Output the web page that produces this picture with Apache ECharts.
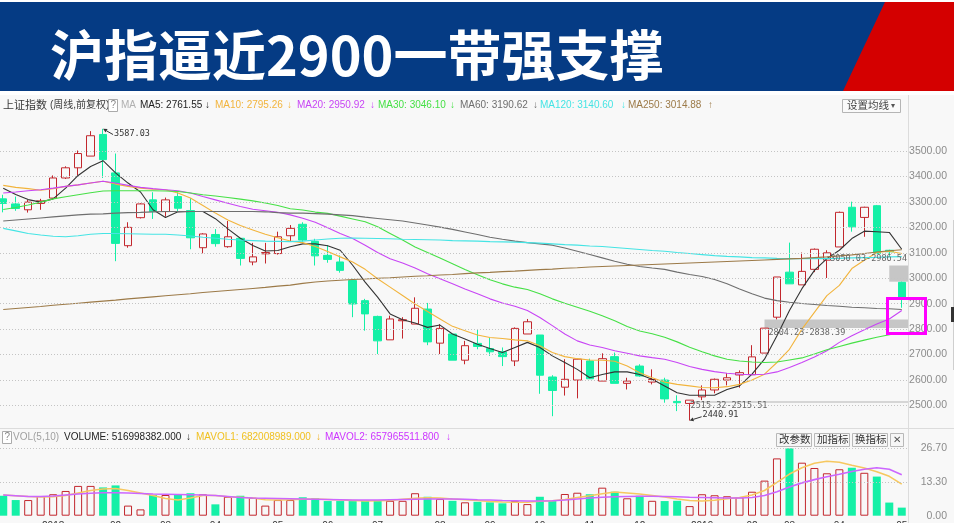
<!DOCTYPE html>
<html><head><meta charset="utf-8">
<script src="https://cdn.jsdelivr.net/npm/echarts@6/dist/echarts.min.js"></script>
<style>html,body{margin:0;padding:0;background:#f8f8f8;}#c{width:954px;height:523px;}</style>
</head><body><div id="c"></div>
<script>
const titleText = '沪指逼近2900一带强支撑';
const categories = ['2017-12-04','2017-12-11','2017-12-18','2017-12-25','2018-01-01','2018-01-08','2018-01-15','2018-01-22','2018-01-29','2018-02-05',
'2018-02-12','2018-02-19','2018-02-26','2018-03-05','2018-03-12','2018-03-19','2018-03-26','2018-04-02','2018-04-09','2018-04-16',
'2018-04-23','2018-04-30','2018-05-07','2018-05-14','2018-05-21','2018-05-28','2018-06-04','2018-06-11','2018-06-18','2018-06-25',
'2018-07-02','2018-07-09','2018-07-16','2018-07-23','2018-07-30','2018-08-06','2018-08-13','2018-08-20','2018-08-27','2018-09-03',
'2018-09-10','2018-09-17','2018-09-24','2018-10-08','2018-10-15','2018-10-22','2018-10-29','2018-11-05','2018-11-12','2018-11-19',
'2018-11-26','2018-12-03','2018-12-10','2018-12-17','2018-12-24','2018-12-31','2019-01-07','2019-01-14','2019-01-21','2019-01-28',
'2019-02-11','2019-02-18','2019-02-25','2019-03-04','2019-03-11','2019-03-18','2019-03-25','2019-04-01','2019-04-08','2019-04-15',
'2019-04-22','2019-04-29','2019-05-06'];
const opens = [3312,3292,3269,3294,3315,3394,3434,3480,3565,3414,
3128,3238,3308,3262,3321,3266,3120,3172,3124,3157,
3064,3096,3097,3167,3212,3145,3090,3064,2991,2912,
2850,2758,2833,2820,2879,2745,2781,2678,2744,2724,
2711,2675,2781,2777,2612,2572,2600,2675,2596,2692,
2587,2655,2592,2600,2516,2508,2534,2561,2600,2620,
2621,2706,2847,3024,2974,3035,3071,3123,3279,3239,
3285,3110,2984];
const closes = [3294,3274,3299,3304,3394,3434,3490,3560,3466,3137,
3200,3292,3262,3308,3275,3159,3174,3136,3163,3078,
3084,3101,3163,3196,3150,3088,3074,3031,2899,2860,
2754,2840,2837,2882,2750,2803,2678,2735,2732,2711,
2692,2803,2829,2619,2559,2603,2682,2605,2684,2587,
2596,2616,2602,2526,2511,2521,2561,2603,2609,2629,
2691,2804,3005,2978,3027,3114,3100,3259,3202,3279,
3097,3104,2917];
const lows = [3259,3265,3258,3269,3312,3390,3404,3480,3394,3067,
3120,3235,3233,3242,3262,3114,3098,3124,3120,3050,
3051,3058,3093,3146,3143,3050,3061,3022,2847,2794,
2702,2758,2763,2820,2737,2702,2678,2662,2721,2695,
2655,2655,2781,2546,2458,2539,2528,2605,2596,2587,
2563,2613,2583,2511,2478,2440.91,2521,2548,2579,2570,
2621,2706,2838.39,2978,2974,3024,3001,3123,3183,3163,
3097,3088,2884];
const highs = [3328,3321,3308,3312,3404,3440,3502,3578,3587.03,3490,
3220,3295,3338,3317,3338,3315,3177,3193,3225,3157,
3139,3139,3183,3209,3220,3155,3130,3090,2998,2919,
2853,2853,2847,2925,2903,2820,2781,2754,2800,2767,
2728,2807,2840,2777,2619,2682,2684,2684,2705,2708,
2609,2662,2642,2609,2540,2521,2579,2606,2627,2638,
2737,2804.23,3005,3140,3101,3117,3110,3262,3301,3281,
3288,3112,2986.54];
const volumes = [7.9,6.2,6.2,7.8,8.5,9.8,11.8,11.8,11.2,12.0,
4.0,2.5,8.2,8.2,8.2,8.9,8.5,4.5,7.5,7.9,
7.1,4.0,6.2,6.2,7.3,6.9,5.8,5.8,5.8,5.9,
6.2,5.9,5.9,8.9,7.5,6.6,5.9,5.3,5.5,5.3,
4.9,5.8,4.6,7.5,5.8,8.6,9.1,8.5,11.1,9.5,
6.9,7.9,5.9,5.8,5.9,3.8,8.5,8.1,7.7,7.3,
9.5,13.9,22.7,26.7,21.0,18.9,16.8,18.4,19.0,17.0,
15.5,5.2,3.2];
const ma5 = [3354,3329,3309,3299,3312,3354,3404,3439,3462,3414,
3374,3339,3269,3239,3261,3262,3262,3234,3194,3157,
3129,3107,3109,3124,3135,3135,3128,3110,3051,2985,
2926,2860,2837,2824,2807,2816,2781,2761,2741,2724,
2708,2728,2748,2728,2695,2669,2642,2609,2622,2632,
2632,2622,2603,2577,2550,2540,2540,2540,2563,2577,
2623,2682,2774,2873,2959,3031,3077,3110,3156,3185,
3183,3180,3114];
const ma10 = [3365,3357,3352,3346,3352,3361,3367,3374,3381,3370,
3361,3354,3350,3348,3335,3315,3286,3256,3229,3207,
3190,3173,3159,3146,3140,3125,3105,3084,3064,3035,
2998,2965,2932,2899,2869,2840,2811,2794,2777,2767,
2763,2758,2754,2735,2708,2692,2684,2679,2678,2674,
2655,2629,2609,2592,2583,2577,2571,2570,2574,2583,
2600,2623,2669,2721,2800,2866,2932,2972,3038,3071,
3101,3106,3097];
const ma20 = [3335,3339,3344,3348,3354,3361,3367,3374,3381,3374,
3365,3357,3352,3348,3344,3335,3321,3308,3295,3282,
3271,3265,3259,3249,3236,3220,3198,3176,3156,3130,
3101,3077,3060,3040,3018,2998,2978,2958,2939,2919,
2903,2890,2873,2846,2814,2781,2754,2738,2728,2715,
2705,2695,2688,2682,2669,2653,2642,2633,2627,2623,
2621,2623,2632,2649,2669,2691,2715,2748,2774,2798,
2820,2840,2873];
const ma30 = [3270,3278,3288,3299,3312,3320,3328,3336,3343,3344,
3344,3344,3344,3343,3341,3335,3328,3323,3317,3311,
3304,3296,3286,3273,3268,3260,3255,3244,3233,3222,
3202,3176,3150,3123,3101,3080,3057,3034,3014,2994,
2978,2965,2956,2939,2919,2902,2886,2870,2853,2833,
2810,2793,2782,2768,2750,2729,2711,2695,2682,2675,
2671,2669,2671,2679,2687,2702,2719,2732,2745,2757,
2768,2778,2787];
const ma60 = [3225,3229,3233,3237,3241,3245,3249,3252,3253,3256,
3258,3259,3261,3262,3262,3262,3262,3262,3262,3262,
3262,3261,3258,3256,3256,3254,3252,3249,3246,3240,
3235,3230,3225,3217,3209,3201,3192,3182,3172,3161,
3153,3146,3140,3135,3130,3119,3106,3093,3080,3067,
3055,3046,3040,3035,3024,3015,3007,2995,2978,2958,
2939,2922,2912,2906,2901,2897,2893,2890,2886,2884,
2881,2880,2877];
const ma120 = [3196,3186,3176,3170,3165,3163,3167,3173,3176,3176,
3175,3174,3173,3173,3170,3166,3161,3157,3153,3150,
3148,3146,3145,3144,3146,3150,3154,3157,3158,3157,
3156,3155,3153,3152,3151,3150,3148,3147,3146,3144,
3143,3142,3140,3138,3135,3132,3130,3127,3125,3121,
3117,3113,3109,3106,3101,3097,3093,3089,3086,3084,
3081,3080,3078,3077,3077,3077,3077,3078,3080,3081,
3082,3084,3085];
const ma250 = [2877,2881,2885,2889,2894,2898,2902,2906,2910,2914,
2919,2923,2927,2931,2935,2939,2944,2948,2952,2956,
2960,2964,2969,2973,2980,2985,2989,2992,2995,2997,
3000,3002,3005,3008,3010,3013,3015,3018,3021,3023,
3026,3028,3031,3034,3036,3039,3041,3044,3046,3048,
3050,3052,3054,3056,3058,3060,3062,3064,3066,3068,
3070,3072,3074,3076,3078,3081,3084,3088,3092,3097,
3103,3108,3112];
const mavol1 = [8.2,7.9,7.6,7.4,7.5,8.0,9.0,10.0,10.6,10.8,
10.0,9.0,8.0,6.8,6.2,7.0,8.0,8.0,7.5,7.3,
7.0,6.3,6.2,6.3,6.5,6.6,6.4,6.2,6.0,5.8,
5.9,6.0,6.5,6.9,7.1,7.0,6.6,6.3,6.0,5.6,
5.4,5.3,5.3,5.7,5.9,6.4,7.2,7.9,8.7,9.4,
9.0,8.6,8.0,7.4,6.6,6.0,5.8,6.1,6.7,7.2,
8.2,10.0,13.2,16.5,19.0,20.8,21.6,21.2,20.0,18.9,
17.4,15.6,12.5];
const mavol2 = [8.2,7.9,7.6,7.6,7.8,8.2,8.6,8.9,9.1,9.1,
9.0,8.8,8.6,8.5,8.4,8.3,8.2,8.0,7.6,7.2,
7.0,6.9,6.8,6.7,6.6,6.5,6.4,6.3,6.2,6.2,
6.2,6.3,6.4,6.5,6.6,6.6,6.6,6.5,6.3,6.2,
6.0,5.9,5.8,5.8,5.9,6.2,6.6,7.0,7.3,7.5,
7.6,7.7,7.7,7.6,7.5,7.3,7.2,7.1,7.0,7.0,
7.2,8.0,9.5,11.4,13.0,14.3,15.4,16.4,17.5,18.4,
19.0,18.4,16.2];
const priceTicks = [2500,2600,2700,2800,2900,3000,3100,3200,3300,3400,3500];
const volTicks = [0,13.35,26.7];
const volTickLabels = ['0.00','13.30','26.70'];
const gapStart = [55,61,71];
const gapHigh = [2515.51,2838.39,3050.03];
const gapLow = [2515.32,2804.23,2986.54];
const gapLabels = ['2515.32-2515.51','2804.23-2838.39','3050.03-2986.54'];
const maNames = ['MA5','MA10','MA20','MA30','MA60','MA120','MA250'];
const maLegendValues = ['2761.55','2795.26','2950.92','3046.10','3190.62','3140.60','3014.88'];
const maArrows = ['↓','↓','↓','↓','↓','↓','↑'];
const volLegend = ['VOLUME: 516998382.000','MAVOL1: 682008989.000','MAVOL2: 657965511.800'];

const RED = '#c2272d', GREEN = '#14f0a6';
const maColors = ['#333333','#f2b43c','#c845f5','#46e046','#6e6e6e','#45e4e4','#9c7a48'];
const maSeries = [ma5,ma10,ma20,ma30,ma60,ma120,ma250];
const FONT = '"Liberation Sans","Noto Sans CJK SC",sans-serif';
const MONO = '"DejaVu Sans Mono",monospace';

const chart = echarts.init(document.getElementById('c'), null, {renderer:'canvas'});
const candleData = opens.map((o,i)=>[o, closes[i], lows[i], highs[i]]);
const volData = volumes.map((v,i)=>{
  const up = closes[i] >= opens[i];
  return {value:v, itemStyle: up ? {color:'rgba(0,0,0,0)', borderColor:RED, borderWidth:1} : {color:GREEN, borderColor:GREEN, borderWidth:0}};
});
function monthLabel(v, i){
  if (i === 0) return '';
  const m = v.slice(5,7), pm = categories[i-1].slice(5,7);
  if (m === pm) return '';
  return m === '01' ? v.slice(0,4) : m;
}
const series = [
  {type:'candlestick', xAxisIndex:0, yAxisIndex:0, data:candleData, barWidth:8,
   itemStyle:{color:'rgba(0,0,0,0)', color0:GREEN, borderColor:RED, borderColor0:GREEN, borderWidth:1},
   markLine:{silent:true, symbol:'none', label:{show:false}, animation:false,
     lineStyle:{color:'#c4c4c4', type:[1,2], width:1},
     data: priceTicks.map(v=>({yAxis:v}))}, z:3}
];
maSeries.forEach((d,k)=>series.push({type:'line', name:maNames[k], xAxisIndex:0, yAxisIndex:0, data:d,
  showSymbol:false, symbol:'none', smooth:false, lineStyle:{color:maColors[k], width:1.1}, z:4}));
series.push({type:'bar', xAxisIndex:1, yAxisIndex:1, data:volData, barWidth:8,
  markLine:{silent:true, symbol:'none', label:{show:false}, animation:false,
    lineStyle:{color:'#c4c4c4', type:[1,2], width:1}, data: volTicks.slice(1).map(v=>({yAxis:v}))}});
series.push({type:'line', xAxisIndex:1, yAxisIndex:1, data:mavol1, showSymbol:false, symbol:'none', lineStyle:{color:'#f6c860', width:1.6}, z:4});
series.push({type:'line', xAxisIndex:1, yAxisIndex:1, data:mavol2, showSymbol:false, symbol:'none', lineStyle:{color:'#cc66ff', width:1.6}, z:4});

function txt(text, x, y, color, size, extra){
  return Object.assign({type:'text', z:50, style:{text:text, x:x, y:y, fill:color, font:(size||10)+'px '+FONT,
    textVerticalAlign:'middle', verticalAlign:'middle', textAlign:'left', align:'left'}}, extra||{});
}
const statics = [
  {type:'rect', z:1, shape:{x:0,y:0,width:954,height:95}, style:{fill:'#ffffff'}},
  {type:'rect', z:2, shape:{x:0,y:2,width:954,height:89}, style:{fill:'#053b84'}},
  {type:'polygon', z:3, shape:{points:[[843,91],[885,2],[954,2],[954,91]]}, style:{fill:'#d40000'}},
  {type:'text', z:10, style:{text:titleText, x:50, y:55, fill:'#ffffff', font:'bold 54px "Noto Sans CJK SC"', textVerticalAlign:'middle', verticalAlign:'middle'}},
  {type:'line', z:5, shape:{x1:0,y1:428.5,x2:954,y2:428.5}, style:{stroke:'#dcdcdc', lineWidth:1}},
  {type:'line', z:5, shape:{x1:908.5,y1:95,x2:908.5,y2:523}, style:{stroke:'#dcdcdc', lineWidth:1}},
  {type:'line', z:5, shape:{x1:953.5,y1:220,x2:953.5,y2:370}, style:{stroke:'#cfcfcf', lineWidth:1}},
  {type:'rect', z:6, shape:{x:951,y:307,width:3,height:15}, style:{fill:'#333'}},
  txt('上证指数', 3, 105.5, '#3a3a3a', 11),
  txt('(周线,前复权)', 50, 105.5, '#3a3a3a', 10),
  {type:'rect', z:50, shape:{x:108.5,y:99.5,width:9,height:12}, style:{fill:'#fff', stroke:'#aaa', lineWidth:1}},
  txt('?', 110.5, 105.5, '#888', 10),
  txt('MA', 121, 105.5, '#b0b0b0', 10),
  {type:'rect', z:50, shape:{x:842.5,y:99.5,width:58,height:13}, style:{fill:'#fafafa', stroke:'#b5b5b5', lineWidth:1}},
  txt('设置均线', 847, 106, '#444', 10.5),
  txt('▾', 891, 106, '#555', 8),
  {type:'rect', z:50, shape:{x:2.5,y:431.5,width:9,height:12}, style:{fill:'#fff', stroke:'#aaa', lineWidth:1}},
  txt('?', 4.5, 437.5, '#888', 10),
  txt('VOL(5,10)', 13, 437.5, '#a0a0a0', 10),
  txt(volLegend[0], 64, 437.5, '#222', 10),
  txt('↓', 186, 437.5, '#222', 10),
  txt(volLegend[1], 196, 437.5, '#f0c020', 10),
  txt('↓', 316, 437.5, '#f0b020', 10),
  txt(volLegend[2], 325, 437.5, '#cc33ff', 10),
  txt('↓', 446, 437.5, '#cc33ff', 10),
  {type:'rect', z:50, shape:{x:776.5,y:433.5,width:35,height:13}, style:{fill:'#f6f6f6', stroke:'#b8b8b8', lineWidth:1}},
  txt('改参数', 779, 440, '#333', 10.5),
  {type:'rect', z:50, shape:{x:814.5,y:433.5,width:35,height:13}, style:{fill:'#f6f6f6', stroke:'#b8b8b8', lineWidth:1}},
  txt('加指标', 817, 440, '#333', 10.5),
  {type:'rect', z:50, shape:{x:852.5,y:433.5,width:35,height:13}, style:{fill:'#f6f6f6', stroke:'#b8b8b8', lineWidth:1}},
  txt('换指标', 855, 440, '#333', 10.5),
  {type:'rect', z:50, shape:{x:890.5,y:433.5,width:13,height:13}, style:{fill:'#f6f6f6', stroke:'#b8b8b8', lineWidth:1}},
  txt('✕', 893, 440, '#555', 10),
  {type:'rect', z:60, shape:{x:887.5,y:298.5,width:38,height:35}, style:{fill:'none', stroke:'#ff00ff', lineWidth:3}}
];
const maLegendX = [140,215,297,378,460,540,628];
const arrowX = [205,287,370,450,533,621,708];
maNames.forEach((n,k)=>{
  statics.push(txt(n+': '+maLegendValues[k], maLegendX[k], 105.5, k===0?'#222':maColors[k], 10));
  statics.push(txt(maArrows[k], arrowX[k], 105.5, k===0?'#222':maColors[k], 10));
});

const option = {
  animation:false,
  backgroundColor:'#f8f8f8',
  grid:[{left:-3, right:46, top:125.55, height:305.4, containLabel:false, outerBoundsMode:'none'},
        {left:-3, right:46, top:448.3, height:67.4, containLabel:false, outerBoundsMode:'none'}],
  xAxis:[
    {type:'category', gridIndex:0, data:categories, boundaryGap:true, axisLine:{show:false}, axisTick:{show:false}, axisLabel:{show:false}, splitLine:{show:false}},
    {type:'category', gridIndex:1, data:categories, boundaryGap:true, axisLine:{show:false}, axisTick:{show:false},
     axisLabel:{show:true, interval:0, formatter:monthLabel, color:'#333', fontSize:10, margin:6, fontFamily:FONT}, splitLine:{show:false}}
  ],
  yAxis:[
    {type:'value', gridIndex:0, position:'right', min:2400, max:3600, interval:100,
     axisLine:{show:false}, axisTick:{show:false}, splitLine:{show:false},
     axisLabel:{show:true, inside:false, margin:39, align:'right', color:'#8c8c8c', fontSize:10.5, fontFamily:FONT,
       formatter:v=>priceTicks.indexOf(Math.round(v))>=0 ? v.toFixed(2) : ''}},
    {type:'value', gridIndex:1, position:'right', min:0, max:26.7, interval:13.35,
     axisLine:{show:false}, axisTick:{show:false}, splitLine:{show:false},
     axisLabel:{show:true, margin:39, align:'right', color:'#8c8c8c', fontSize:10.5, fontFamily:FONT,
       formatter:(v,idx)=>volTickLabels[idx]}}
  ],
  series:series,
  graphic:statics
};
chart.setOption(option);

function P(i,v){ return chart.convertToPixel({xAxisIndex:0, yAxisIndex:0}, [i, v]); }
const RIGHT = 908;
const dyn = [];
gapStart.forEach((s,k)=>{
  const a = P(s, gapHigh[k]), b = P(s, gapLow[k]);
  const h = Math.max(b[1]-a[1], 1);
  const thin = h < 2;
  dyn.push({type:'rect', z:2, shape:{x:a[0], y:a[1], width:RIGHT-a[0], height:h}, style:{fill: thin ? '#b4b4b4' : '#c6c6c6'}});
  let lx, ly, al = 'left';
  if (k === 0) { lx = a[0]+1; ly = b[1]+4.5; }
  else if (k === 1) { lx = a[0]+4; ly = b[1]+5; }
  else { lx = RIGHT-1; ly = a[1]-6.5; al = 'right'; }
  dyn.push({type:'text', z:40, style:{text:gapLabels[k], x:lx, y:ly, fill:'#666', font:'8.5px '+MONO, textAlign:al, align:al, textVerticalAlign:'middle', verticalAlign:'middle'}});
});
const hiIdx = highs.indexOf(Math.max.apply(null, highs));
const loIdx = lows.indexOf(Math.min.apply(null, lows));
function marker(idx, val, dx, dy){
  const p = P(idx, val);
  const tx = p[0]+dx, ty = p[1]+dy;
  const ex = tx-1, ey = ty + (dy>0 ? 1.2 : 1.7);
  const ang = Math.atan2(p[1]-ey, p[0]-ex);
  const L = 4, W = 2;
  const hx = p[0], hy = p[1];
  const bx = hx - L*Math.cos(ang), by = hy - L*Math.sin(ang);
  dyn.push({type:'line', z:40, shape:{x1:ex, y1:ey, x2:bx, y2:by}, style:{stroke:'#333', lineWidth:1}});
  dyn.push({type:'polygon', z:40, shape:{points:[[hx,hy],[bx+W*Math.sin(ang), by-W*Math.cos(ang)],[bx-W*Math.sin(ang), by+W*Math.cos(ang)]]}, style:{fill:'#333'}});
  dyn.push({type:'text', z:40, style:{text:val.toFixed(2), x:tx, y:ty, fill:'#333', font:'8.5px '+MONO, textVerticalAlign:'middle', verticalAlign:'middle'}});
}
marker(hiIdx, highs[hiIdx], 11, 4.5);
marker(loIdx, lows[loIdx], 13, -5.5);
chart.setOption({graphic: statics.concat(dyn)});
</script></body></html>
